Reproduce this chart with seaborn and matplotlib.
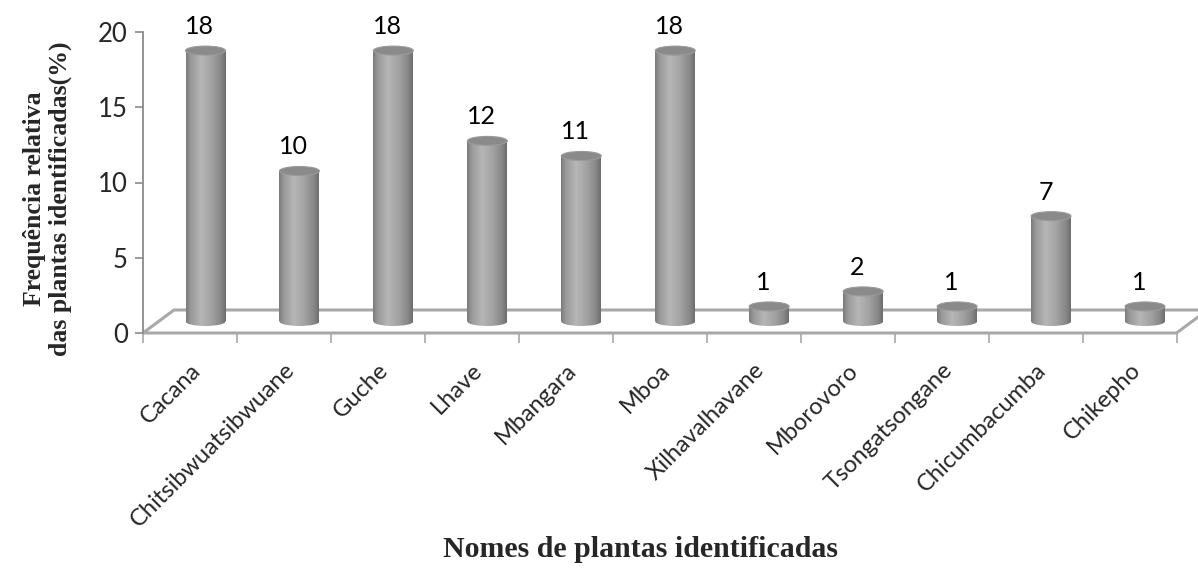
import numpy as np
import pandas as pd
import matplotlib
matplotlib.use("Agg")
import matplotlib.pyplot as plt
import seaborn as sns
from matplotlib.colors import LinearSegmentedColormap
from matplotlib.patches import Ellipse, Polygon
from matplotlib.transforms import ScaledTranslation

# Plant names and relative frequency (%)
plantas = ["Cacana", "Chitsibwuatsibwuane", "Guche", "Lhave", "Mbangara", "Mboa",
           "Xilhavalhavane", "Mborovoro", "Tsongatsongane", "Chicumbacumba", "Chikepho"]
frequencia = [18, 10, 18, 12, 11, 18, 1, 2, 1, 7, 1]
y_ticks = [0, 5, 10, 15, 20]

sns.set_theme(style="white")
plt.rcParams["font.family"] = ["Lato", "DejaVu Sans"]

DPI = 100
W, H = 1198, 572
fig = plt.figure(figsize=(W / DPI, H / DPI), dpi=DPI)
ax_left, ax_bottom, ax_w, ax_h = 143, 239, 1033.5, 301
ax = fig.add_axes([ax_left / W, ax_bottom / H, ax_w / W, ax_h / H])

df = pd.DataFrame({"planta": plantas, "freq": frequencia})
sns.barplot(data=df, x="planta", y="freq", color="#a5a5a5", width=0.425,
            saturation=1, errorbar=None, ax=ax, zorder=3)
bars = list(ax.patches)

ax.set_xlim(-0.5, len(plantas) - 0.5)
ax.set_ylim(y_ticks[0], y_ticks[-1])
ax.set_autoscale_on(False)

# pseudo-3D floor: depth offset in pixels
depth_dx, depth_dy = 31, 23
floor = Polygon([(0, 0), (1, 0), (1 + depth_dx / ax_w, depth_dy / ax_h), (depth_dx / ax_w, depth_dy / ax_h)],
                closed=True, transform=ax.transAxes, facecolor="white",
                edgecolor="#a8a8a8", lw=2.2, zorder=1, clip_on=False)
ax.add_patch(floor)

# bars sit halfway into the floor depth
bar_trans = ax.transData + ScaledTranslation(depth_dx / 2 / DPI, depth_dy / 2 / DPI, fig.dpi_scale_trans)

cyl_cmap = LinearSegmentedColormap.from_list(
    "cyl", [(0.0, "#7a7a7a"), (0.12, "#9a9a9a"), (0.38, "#b6b6b6"),
            (0.65, "#a2a2a2"), (0.88, "#878787"), (1.0, "#6c6c6c")])
grad = np.linspace(0, 1, 256).reshape(1, -1)

px_per_unit = ax.transData.transform((0, 1))[1] - ax.transData.transform((0, 0))[1]
cap_h = 9 / px_per_unit

for bar, v in zip(bars, frequencia):
    x0, w = bar.get_x(), bar.get_width()
    xc = x0 + w / 2
    bar.set_transform(bar_trans)
    bar.set_facecolor("none")
    bar.set_edgecolor("none")

    base = Ellipse((xc, 0), w, cap_h, transform=bar_trans, facecolor="none", edgecolor="none")
    ax.add_patch(base)
    im_base = ax.imshow(grad, cmap=cyl_cmap, extent=(x0, x0 + w, -cap_h / 2, cap_h / 2),
                        aspect="auto", transform=bar_trans, zorder=2.9, interpolation="bilinear")
    im_base.set_clip_path(base)

    im_body = ax.imshow(grad, cmap=cyl_cmap, extent=(x0, x0 + w, 0, v),
                        aspect="auto", transform=bar_trans, zorder=3, interpolation="bilinear")
    im_body.set_clip_path(bar)

    top = Ellipse((xc, v), w, cap_h, transform=bar_trans, facecolor="#8a8a8a",
                  edgecolor="#9a9a9a", lw=0.8, zorder=3.2)
    ax.add_patch(top)

    ax.annotate(f"{v}", xy=(xc, v), xycoords=bar_trans, xytext=(-4, 9),
                textcoords="offset points", ha="center", va="bottom",
                fontsize=18, color="black", zorder=4)

ax.set_xlim(-0.5, len(plantas) - 0.5)
ax.set_ylim(y_ticks[0], y_ticks[-1])

# axes styling
for side in ["top", "right", "bottom"]:
    ax.spines[side].set_visible(False)
ax.spines["left"].set_color("#8a8a8a")
ax.spines["left"].set_linewidth(1.3)
ax.spines["left"].set_zorder(2)

ax.set_yticks(y_ticks)
ax.set_yticklabels([str(t) for t in y_ticks], fontsize=18.5)
ax.tick_params(axis="y", left=True, length=6, width=1.2, color="#8a8a8a", pad=5)

ax.set_xticks(range(len(plantas)))
ax.set_xticks(np.arange(-0.5, len(plantas), 1), minor=True)
ax.set_xticklabels(plantas, rotation=45, ha="right", rotation_mode="anchor", fontsize=17)
ax.tick_params(axis="x", which="major", bottom=True, length=0, pad=19)
ax.tick_params(axis="x", which="minor", bottom=True, length=7, width=1.2, color="#a8a8a8")

ax.set_xlabel("")
ax.set_ylabel("")
ax.grid(False)

fig.text(0.535, 0.0385, "Nomes de plantas identificadas", family="Liberation Serif",
         weight="bold", fontsize=21.5, ha="center", va="center")
fig.text(0.040, 0.652, "Frequência relativa\ndas plantas identificadas(%)",
         family="Liberation Serif", weight="bold", fontsize=18.5, rotation=90,
         ha="center", va="center", multialignment="center", linespacing=1.15)

fig.savefig("out.png", dpi=DPI)
